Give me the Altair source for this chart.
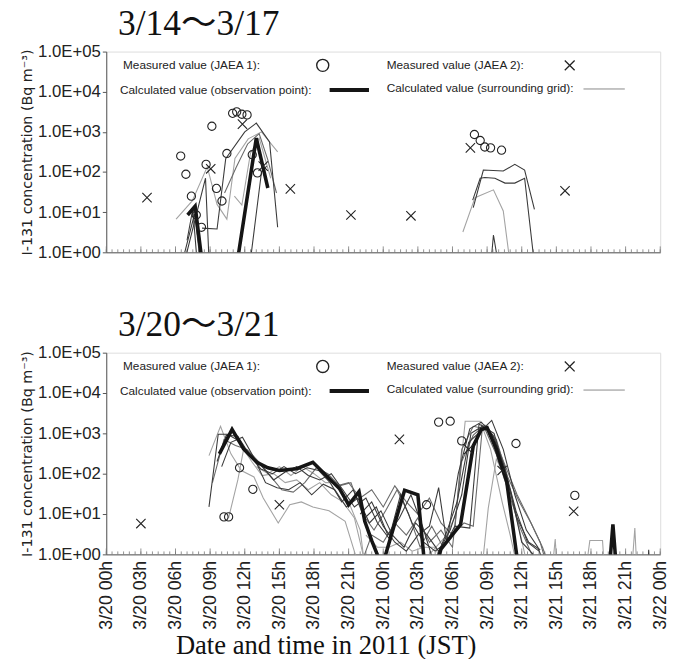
import altair as alt
import pandas as pd

# ---------------- labels ----------------
Y_LABELS = ["1.0E+00", "1.0E+01", "1.0E+02", "1.0E+03", "1.0E+04", "1.0E+05"]
Y_VALUES = [1, 10, 100, 1000, 10000, 100000]
X_LABELS = ["3/20 00h", "3/20 03h", "3/20 06h", "3/20 09h", "3/20 12h", "3/20 15h",
            "3/20 18h", "3/20 21h", "3/21 00h", "3/21 03h", "3/21 06h", "3/21 09h",
            "3/21 12h", "3/21 15h", "3/21 18h", "3/21 21h", "3/22 00h"]
X_VALUES = [0, 3, 6, 9, 12, 15, 18, 21, 24, 27, 30, 33, 36, 39, 42, 45, 48]

# ---------------- top panel (hours since 3/14 00h) ----------------
top_j1_h = [12.9, 13.8, 14.75, 15.6, 16.5, 17.3, 18.3, 19.1, 20.05, 20.9, 21.9, 22.6,
            23.5, 24.4, 25.3, 26.2, 63.8, 64.8, 65.6, 66.6, 68.5]
top_j1_v = [250, 88, 25, 8.5, 4.2, 155, 1380, 39, 19, 290, 2900, 3150,
            2750, 2650, 270, 95, 860, 610, 420, 400, 350]
top_j2_h = [7.06, 18.1, 23.6, 27.2, 31.9, 42.4, 52.8, 63.1, 79.5]
top_j2_v = [23, 120, 1560, 140, 38, 8.5, 8.1, 400, 34]

top_obs = [(14.1, 8.5), (15.4, 14), (17.0, 0.2), (22.4, 0.3), (26.0, 700), (28.0, 40)]

top_dark = {
    "t1": [(13.8, 0.8), (17.2, 70), (17.9, 0.3)],
    "t2": [(16.6, 4), (19.2, 3.8), (20.7, 216), (24.0, 1000), (26.0, 1650), (28.3, 560), (29.7, 4.2)],
    "t3": [(14.0, 2), (15.0, 12), (16.0, 0.2)],
    "t4": [(13.6, 1.0), (15.3, 9), (16.7, 0.2)],
    "t8": [(24.7, 0.3), (26.9, 100), (27.8, 140)],
    "t9": [(63.6, 13), (65.35, 112), (68.8, 106), (70.8, 155), (72.5, 112), (74.2, 11.7)],
    "t10": [(63.5, 20), (64.8, 70), (65.6, 73), (67.35, 70), (69.1, 53), (70.8, 53), (72.5, 70), (74.2, 0.5)],
    "t12": [(66.5, 0.3), (67.1, 2.7), (68.2, 0.3)],
}
top_mid = {
    "t6": [(20.5, 30), (22.5, 130), (24.5, 500), (26.5, 900), (28.0, 200), (29.5, 30)],
}
top_light = {
    "t5": [(12.1, 6.7), (14.9, 19), (17.5, 135), (19.2, 15.6), (20.9, 6.7), (22.3, 218),
           (24.6, 670), (26.9, 1000), (29.7, 316)],
    "t7": [(22.2, 25), (23.5, 15), (25.0, 300), (26.5, 700), (28.5, 70)],
    "t11": [(61.8, 3.2), (63.9, 23), (67.1, 36), (68.8, 10.7), (70.0, 0.5)],
}

# ---------------- bottom panel (hours since 3/20 00h) ----------------
bot_j1_h = [10.2, 10.6, 11.55, 12.7, 27.75, 28.8, 29.8, 30.8, 35.5, 40.6]
bot_j1_v = [8.5, 8.5, 140, 41, 17, 1900, 2000, 650, 560, 29]
bot_j2_h = [3.0, 15.0, 25.4, 31.4, 34.3, 40.5]
bot_j2_v = [5.8, 17, 710, 400, 120, 11.7]

bot_obs = [(9.8, 310), (10.9, 1250), (11.9, 410), (13.05, 192), (14.0, 140), (15.0, 120),
           (16.5, 133), (17.9, 192), (18.75, 110), (20.2, 43), (21.0, 17), (21.9, 36),
           (22.4, 6.6), (23.0, 2.2), (23.9, 0.5), (25.85, 39), (27.0, 30), (27.6, 0.5),
           (28.6, 0.5), (29.0, 1.35), (30.7, 5.5), (31.8, 490), (32.5, 1250), (33.0, 1380),
           (33.8, 410), (34.7, 63), (35.7, 0.5), (43.5, 0.2), (43.9, 5.5), (44.3, 0.2)]

bot_dark = {
    "b3": [(8.9, 15), (9.7, 950), (10.5, 950), (11.5, 650), (12.5, 280), (13.5, 150), (14.5, 70),
           (15.5, 110), (16.5, 150), (17.5, 90), (18.5, 70), (19.5, 100), (20.5, 40), (21.5, 15),
           (22.5, 25), (23.5, 6), (24.5, 2.5), (25.5, 30), (26.5, 6), (27.5, 2), (28.5, 1.2),
           (29.5, 2), (30.5, 100), (31.5, 1300), (32.5, 1900), (33.5, 900), (34.5, 150),
           (35.5, 12), (36.5, 2), (37.5, 1.2)],
    "b4": [(9.6, 200), (10.4, 900), (11.4, 850), (12.4, 300), (13.4, 130), (14.4, 100),
           (15.4, 150), (16.4, 100), (17.4, 140), (18.4, 120), (19.4, 60), (20.4, 20),
           (21.4, 40), (22.4, 8), (23.4, 15), (24.4, 3), (25.4, 8), (26.4, 30), (27.4, 5),
           (28.4, 0.6), (29.4, 3), (30.4, 20), (31.4, 600), (32.4, 1100), (33.4, 2100),
           (34.4, 400), (35.4, 30), (36.4, 4), (37.4, 1.5), (38.0, 0.5)],
    "b6": [(10.0, 150), (10.8, 600), (11.8, 800), (12.8, 250), (13.8, 60), (14.8, 45),
           (15.8, 40), (16.8, 60), (17.8, 30), (18.8, 55), (19.8, 40), (20.8, 15), (21.8, 25),
           (22.8, 6), (23.8, 12), (24.8, 3), (25.8, 1.5), (26.8, 6), (27.8, 3), (28.8, 1.2),
           (29.8, 4), (30.8, 30), (31.6, 1000), (32.6, 1500), (33.6, 1000), (34.6, 100),
           (35.6, 8), (36.6, 2), (37.6, 1.3)],
    "b7": [(22.0, 10), (23.0, 20), (24.0, 5), (25.0, 2), (26.0, 1.2), (27.0, 3), (28.0, 5),
           (28.8, 45), (29.5, 2), (30.2, 5), (31.5, 4.5), (32.3, 1700), (33.2, 1200),
           (34.0, 200), (35.0, 40), (36.0, 2), (37.0, 1.0)],
    "b14": [(46.95, 0.5), (47.0, 1.3), (47.05, 0.5)],
}
bot_mid = {
    "b5": [(9.2, 60), (10.2, 700), (11.2, 500), (12.2, 400), (13.2, 200), (14.2, 90), (15.2, 40),
           (16.2, 35), (17.2, 60), (18.2, 140), (19.2, 100), (20.2, 50), (21.2, 60), (22.2, 10),
           (23.2, 4), (24.2, 12), (25.2, 40), (26.2, 10), (27.2, 1.5), (28.2, 5), (29.2, 1.5),
           (30.2, 4), (30.8, 400), (31.8, 1500), (32.8, 1300), (33.8, 300), (34.8, 40),
           (35.8, 5), (36.8, 1.1), (37.5, 0.5)],
    "b10": [(22.0, 0.5), (23.0, 3), (24.0, 2), (25.0, 6), (26.0, 3), (27.0, 8), (28.0, 2),
            (29.0, 4), (30.0, 1.5), (30.8, 200), (31.8, 900), (32.8, 1600), (33.8, 700),
            (34.8, 80), (35.8, 20), (36.8, 6), (37.8, 1.5), (38.4, 0.5)],
    "b16": [(19.0, 80), (20.0, 50), (21.0, 60), (22.0, 25), (23.0, 40), (24.0, 15), (25.0, 50),
            (26.0, 20), (27.0, 10), (28.0, 25), (29.0, 6), (30.0, 3), (31.0, 6), (31.8, 5),
            (32.6, 1500), (33.6, 800), (34.6, 150), (35.6, 30), (36.6, 8), (37.6, 2), (38.2, 0.5)],
}
bot_light = {
    "b1": [(8.9, 280), (9.9, 1500), (10.8, 310), (11.7, 120), (12.8, 83), (13.6, 25), (14.9, 6),
           (15.9, 17), (16.9, 20), (17.9, 15), (19.3, 12), (20.7, 6.6), (21.9, 0.5)],
    "b2": [(10.6, 8), (11.4, 70), (11.9, 400), (12.6, 200), (13.5, 90), (14.5, 100), (15.5, 60),
           (16.5, 70), (17.5, 40), (18.5, 60), (19.5, 30), (20.5, 20), (21.5, 8), (22.5, 0.5)],
    "b12": [(13.0, 150), (14.0, 100), (15.0, 150), (16.0, 90), (17.0, 150), (18.0, 100),
            (19.0, 60), (20.0, 60), (21.0, 20), (22.0, 4), (22.5, 0.3)],
    "b8": [(28.0, 1), (29.5, 3), (30.3, 10), (31.1, 2000), (32.4, 2000), (33.3, 400),
           (34.3, 20), (35.0, 3), (35.6, 0.5)],
    "b9": [(32.5, 0.3), (33.1, 14), (33.8, 230), (34.8, 60), (35.8, 4), (36.5, 0.5)],
    "b11": [(41.5, 0.3), (41.9, 2.2), (43.0, 2.2), (43.2, 0.3)],
    "b13": [(38.6, 0.3), (38.9, 2.4), (39.1, 0.3)],
    "b15": [(45.5, 0.3), (45.8, 4.5), (46.0, 0.3)],
    "b17": [(22.5, 3), (23.5, 1.5), (24.5, 1.5), (25.5, 2), (26.5, 1.2), (27.5, 1.5),
            (28.5, 1.5), (29.2, 0.5)],
}

# ---------------- helpers ----------------
SANS = "Liberation Sans"
SERIF = "Liberation Serif, Noto Sans CJK JP"
XPATH = "M-1,-1L1,1M-1,1L1,-1"
PW = 563


def lines_df(d):
    rows = []
    for name, pts in d.items():
        for h, v in pts:
            rows.append({"h": h, "v": v, "s": name})
    return pd.DataFrame(rows)


def pairs_df(pts):
    return pd.DataFrame({"h": [p[0] for p in pts], "v": [p[1] for p in pts]})


one = pd.DataFrame({"k": [0]})
ylab_expr = "[" + ",".join(f"'{s}'" for s in Y_LABELS) + "][round(log(datum.value)/LN10)]"
xlab_expr = "[" + ",".join(f"'{s}'" for s in X_LABELS) + "][round(datum.value/3)]"


def panel(title, dmax, minor, major, j1h, j1v, j2h, j2v, obs, dark, mid, light, H, bottom):
    if bottom:
        xaxis = alt.Axis(values=X_VALUES, labelExpr=xlab_expr, labelAngle=270, ticks=False,
                         labelPadding=6, labelFont=SANS, labelFontSize=18, labelColor="#222",
                         grid=False, title="Date and time in 2011 (JST)", titleFont=SERIF,
                         titleFontSize=27, titleFontWeight="normal", titleColor="#111",
                         titleX=223, titleY=101, titleAlign="center", titleBaseline="alphabetic",
                         domainColor="#555")
    else:
        xaxis = alt.Axis(labels=False, ticks=False, title=None, grid=False, domainColor="#555")
    x = alt.X("h:Q", scale=alt.Scale(domain=[0, dmax], nice=False, zero=False), axis=xaxis)
    y = alt.Y("v:Q", scale=alt.Scale(type="log", domain=[1, 100000], nice=False),
              axis=alt.Axis(values=Y_VALUES, labelExpr=ylab_expr, grid=False, tickSize=4,
                            labelFont=SANS, labelFontSize=17, labelColor="#222",
                            tickColor="#555", domainColor="#555",
                            title="I-131 concentration (Bq m⁻³)", titleFont="DejaVu Sans",
                            titleFontSize=14.5, titleFontWeight="normal", titleColor="#222",
                            titlePadding=3))

    layers = []
    tminor = pd.DataFrame({"h": minor})
    tmajor = pd.DataFrame({"h": major})
    layers.append(alt.Chart(tminor).mark_rule(color="#777", strokeWidth=0.8).encode(
        x=x, y=alt.value(H), y2=alt.value(H - 3)))
    layers.append(alt.Chart(tmajor).mark_rule(color="#777", strokeWidth=0.8).encode(
        x=x, y=alt.value(H), y2=alt.value(H - 6)))

    for d, col in ((light, "#a3a3a3"), (mid, "#6a6a6a"), (dark, "#3a3a3a")):
        layers.append(alt.Chart(lines_df(d)).mark_line(clip=True, strokeWidth=1.1, color=col).encode(
            x=x, y=y, detail="s:N"))
    layers.append(alt.Chart(pairs_df(obs)).mark_line(clip=True, strokeWidth=3.6, color="#151515").encode(
        x=x, y=y))

    layers.append(alt.Chart(pd.DataFrame({"h": j1h, "v": j1v})).mark_point(
        shape="circle", filled=False, size=70, color="#222", strokeWidth=1.1, opacity=1).encode(x=x, y=y))
    layers.append(alt.Chart(pd.DataFrame({"h": j2h, "v": j2v})).mark_point(
        shape=XPATH, filled=False, size=90, color="#222", strokeWidth=1.1, opacity=1).encode(x=x, y=y))

    def txt(px, py, s):
        return alt.Chart(one).mark_text(text=s, align="left", baseline="middle", font=SANS,
                                        fontSize=12, color="#222").encode(
            x=alt.value(px), y=alt.value(py))

    layers += [
        txt(17, 14, "Measured value (JAEA 1):"),
        txt(285, 14, "Measured value (JAEA 2):"),
        txt(14, 39, "Calculated value (observation point):"),
        txt(285, 37, "Calculated value (surrounding grid):"),
        alt.Chart(one).mark_point(shape="circle", filled=False, size=150, color="#222",
                                  strokeWidth=1.4, opacity=1).encode(x=alt.value(220), y=alt.value(14)),
        alt.Chart(one).mark_point(shape=XPATH, filled=False, size=100, color="#222",
                                  strokeWidth=1.3, opacity=1).encode(x=alt.value(471), y=alt.value(14)),
        alt.Chart(one).mark_rule(color="#151515", strokeWidth=4).encode(
            x=alt.value(227), x2=alt.value(267), y=alt.value(39)),
        alt.Chart(one).mark_rule(color="#888", strokeWidth=1).encode(
            x=alt.value(485), x2=alt.value(527), y=alt.value(38)),
    ]
    return alt.layer(*layers).properties(
        width=PW, height=H,
        title=alt.TitleParams(title, font=SERIF, fontSize=36, fontWeight="normal", anchor="start",
                              frame="group", dx=12, offset=0, color="#111"))


top = panel("3/14～3/17", 96, list(range(0, 97)), list(range(0, 97, 6)),
            top_j1_h, top_j1_v, top_j2_h, top_j2_v, top_obs, top_dark, top_mid, top_light, 204, False)
bot = panel("3/20～3/21", 48, [i * 0.5 for i in range(97)], X_VALUES,
            bot_j1_h, bot_j1_v, bot_j2_h, bot_j2_v, bot_obs, bot_dark, bot_mid, bot_light, 205, True)

chart = alt.vconcat(top, bot, spacing=46).resolve_scale(x="independent").properties(
    padding={"left": 19, "top": 0, "right": 4, "bottom": 0}
).configure_view(stroke="#b5b5b5").configure(background="white")

chart.save("out.html", embed_options={"renderer": "svg", "actions": False})
